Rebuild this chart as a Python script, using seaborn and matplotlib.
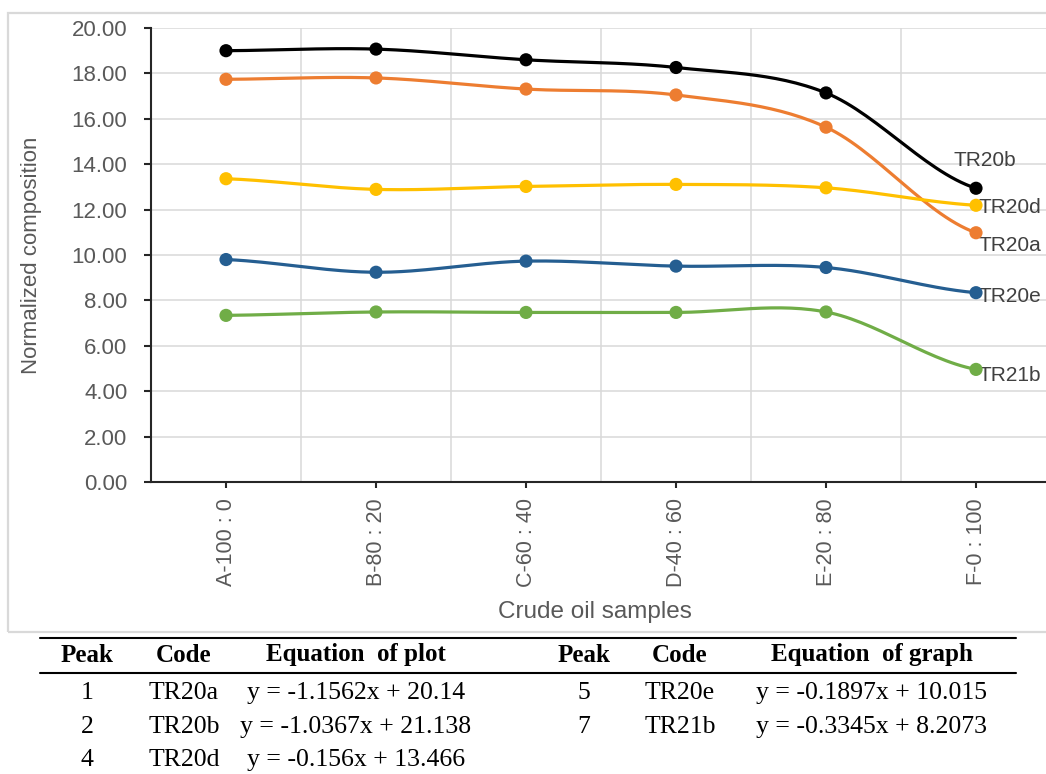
import numpy as np
import pandas as pd
import seaborn as sns
import matplotlib.pyplot as plt
from matplotlib.patches import Rectangle
from matplotlib.lines import Line2D

# values
samples = ['A-100 : 0', 'B-80 : 20', 'C-60 : 40', 'D-40 : 60', 'E-20 : 80', 'F-0 : 100']
tr20a = [17.74, 17.80, 17.31, 17.05, 15.63, 10.98]
tr20b = [19.00, 19.07, 18.60, 18.26, 17.14, 12.94]
tr20d = [13.36, 12.89, 13.02, 13.11, 12.96, 12.19]
tr20e = [9.80, 9.24, 9.73, 9.51, 9.45, 8.34]
tr21b = [7.34, 7.49, 7.47, 7.47, 7.49, 4.96]

codes = ['TR20a', 'TR20b', 'TR20d', 'TR20e', 'TR21b']
colors = {'TR20a': '#ED7D31', 'TR20b': '#000000', 'TR20d': '#FFC000',
          'TR20e': '#255E91', 'TR21b': '#70AD47'}

# equation table under the chart
table_left = [['1', 'TR20a', 'y = -1.1562x + 20.14'],
              ['2', 'TR20b', 'y = -1.0367x + 21.138'],
              ['4', 'TR20d', 'y = -0.156x + 13.466']]
table_right = [['5', 'TR20e', 'y = -0.1897x + 10.015'],
               ['7', 'TR21b', 'y = -0.3345x + 8.2073']]

series = dict(zip(codes, [tr20a, tr20b, tr20d, tr20e, tr21b]))
pts = pd.DataFrame([(c, i, v) for c in codes for i, v in enumerate(series[c])],
                   columns=['code', 'x', 'y'])


def smooth(y, n=30):
    # catmull-rom curve through the points, like excel's smoothed line
    y = np.asarray(y, float)
    p = np.concatenate([[y[0]], y, [y[-1]]])
    xs, ys = [], []
    for i in range(len(y) - 1):
        t = np.linspace(0, 1, n, endpoint=False)
        p0, p1, p2, p3 = p[i], p[i + 1], p[i + 2], p[i + 3]
        m1 = (p2 - p0) / 2
        m2 = (p3 - p1) / 2
        h00 = 2 * t**3 - 3 * t**2 + 1
        h10 = t**3 - 2 * t**2 + t
        h01 = -2 * t**3 + 3 * t**2
        h11 = t**3 - t**2
        xs.append(i + t)
        ys.append(h00 * p1 + h10 * m1 + h01 * p2 + h11 * m2)
    xs.append([len(y) - 1])
    ys.append([y[-1]])
    return np.concatenate(xs), np.concatenate(ys)


curves = []
for c in codes:
    sx, sy = smooth(series[c])
    curves.append(pd.DataFrame({'code': c, 'x': sx, 'y': sy}))
curves = pd.concat(curves, ignore_index=True)

sns.set_style('white')
plt.rcParams['font.family'] = ['Liberation Sans', 'DejaVu Sans']

fig = plt.figure(figsize=(10.46, 7.74), dpi=100)
ax = fig.add_axes([151 / 1046, 1 - 482 / 774, 900 / 1046, 454 / 774])

# light frame of the chart area
fig.patches.append(Rectangle((8 / 1046, 1 - 632 / 774), 1.02, (632 - 13) / 774,
                             transform=fig.transFigure, fill=False,
                             edgecolor='#d9d9d9', lw=1.6, zorder=0))

sns.lineplot(data=curves, x='x', y='y', hue='code', palette=colors, sort=False,
             estimator=None, legend=False, lw=2.3, ax=ax)
sns.scatterplot(data=pts, x='x', y='y', hue='code', palette=colors, s=90,
                edgecolor='none', legend=False, ax=ax, zorder=5)

ax.set_xlim(-0.5, 5.5)
ax.set_ylim(0, 20)
ax.set_yticks(np.arange(0, 21, 2))
ax.set_yticklabels([f'{v:.2f}' for v in np.arange(0, 21, 2)])
ax.set_xticks(range(len(samples)))
ax.set_xticklabels(samples, rotation=90)
ax.set_xticks(np.arange(0.5, 5, 1), minor=True)
ax.grid(True, axis='y', which='major', color='#d9d9d9', lw=1.1)
ax.grid(True, axis='x', which='minor', color='#d9d9d9', lw=1.1)
ax.set_axisbelow(True)

for s in ['top', 'right']:
    ax.spines[s].set_visible(False)
for s in ['left', 'bottom']:
    ax.spines[s].set_color('#262626')
    ax.spines[s].set_linewidth(1.5)

ax.tick_params(axis='y', which='major', length=5, width=1.5, color='#262626',
               direction='out', left=True, pad=12, labelsize=16, labelcolor='#595959')
ax.tick_params(axis='x', which='major', length=4.5, width=1.5, color='#262626',
               direction='out', bottom=True, pad=7, labelsize=15.5, labelcolor='#595959')
ax.tick_params(axis='x', which='minor', length=0)

ax.set_xlabel('Crude oil samples', fontsize=17.5, color='#595959')
ax.set_ylabel('Normalized composition', fontsize=16, color='#595959')
ax.xaxis.set_label_coords(0.493, -0.262)
ax.yaxis.set_label_coords(-0.121, 0.5)

# series names next to the last points
offsets = {'TR20b': (6.5, 20, 'center'), 'TR20d': (2, -1.5, 'left'),
           'TR20a': (1.5, -9, 'left'), 'TR20e': (2, -3, 'left'),
           'TR21b': (2, -4.5, 'left')}
last = len(samples) - 1
for c in codes:
    dx, dy, ha = offsets[c]
    ax.annotate(c, (last, series[c][-1]), xytext=(dx, dy), textcoords='offset points',
                ha=ha, va='center', fontsize=15, color='#404040',
                annotation_clip=False)

# table
fig.add_artist(Line2D([40 / 1046, 1016 / 1046], [1 - 638 / 774] * 2,
                      transform=fig.transFigure, color='black', lw=1.5))
fig.add_artist(Line2D([40 / 1046, 1016 / 1046], [1 - 673 / 774] * 2,
                      transform=fig.transFigure, color='black', lw=1.5))

col_x = [87, 184, 356, 584, 680, 872]
header = ['Peak', 'Code', 'Equation  of plot', 'Peak', 'Code', 'Equation  of graph']
row_y = [693, 727, 760]
serif = ['Liberation Serif', 'DejaVu Serif']
for x, h in zip(col_x, header):
    fig.text(x / 1046, 1 - 655 / 774, h, ha='center', va='center', fontsize=18,
             fontweight='bold', family=serif, color='black')
for r, row in enumerate(table_left):
    for x, v in zip(col_x[:3], row):
        fig.text(x / 1046, 1 - row_y[r] / 774, v, ha='center', va='center',
                 fontsize=18.5, family=serif, color='black')
for r, row in enumerate(table_right):
    for x, v in zip(col_x[3:], row):
        fig.text(x / 1046, 1 - row_y[r] / 774, v, ha='center', va='center',
                 fontsize=18.5, family=serif, color='black')

fig.savefig('out.png', dpi=100)
